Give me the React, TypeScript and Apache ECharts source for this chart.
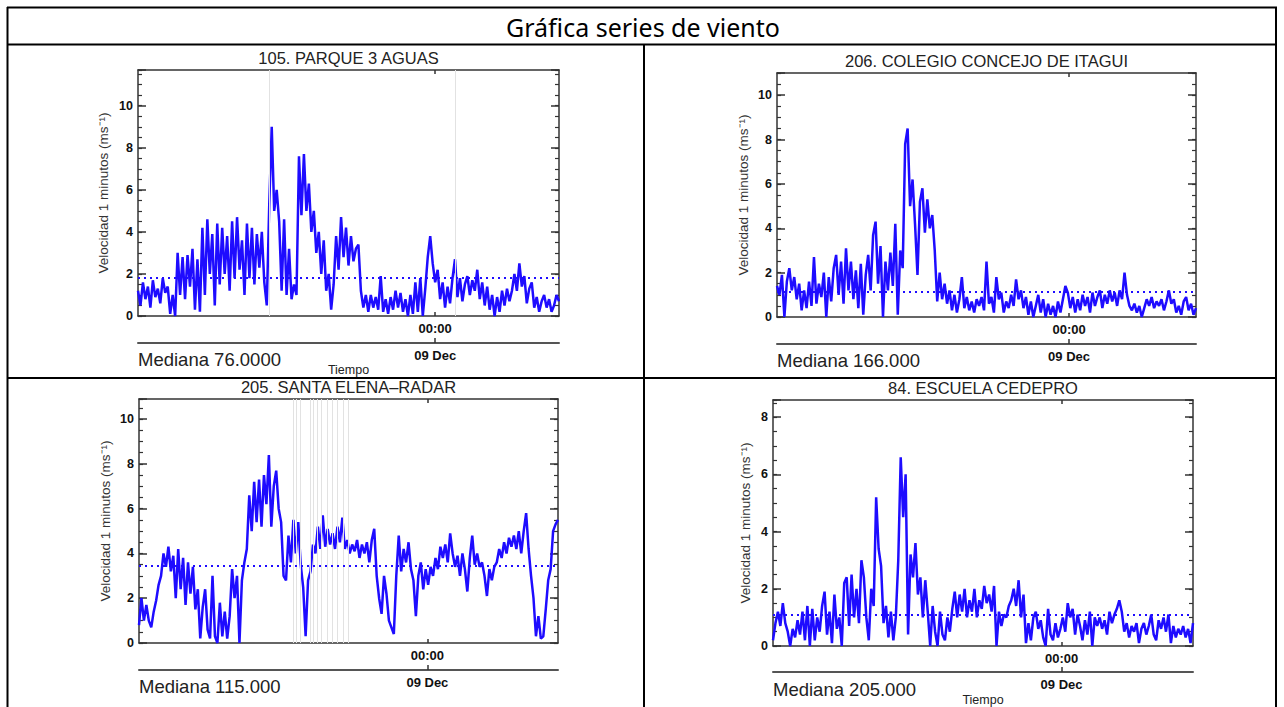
import React, { useEffect, useRef } from "react";
import * as echarts from "echarts";

const MAIN_TITLE = "Gráfica series de viento";
const STATION_TITLES = [
  "105. PARQUE 3 AGUAS",
  "206. COLEGIO CONCEJO DE ITAGUI",
  "205. SANTA ELENA–RADAR",
  "84. ESCUELA CEDEPRO",
];
const MEDIANA_LABELS = ["Mediana 76.0000", "Mediana 166.000", "Mediana 115.000", "Mediana 205.000"];
const SHOW_TIEMPO = [true, false, false, true];
const Y_NAME = "Velocidad 1 minutos (ms⁻¹)";
const MIDNIGHT_LABEL = "00:00";
const DAY_LABEL = "09 Dec";
const TIEMPO = "Tiempo";

// hours relative to 00:00 of 09 Dec
const X_RANGES = [
  [-12.0, 5.0],
  [-11.85, 5.15],
  [-11.7, 5.3],
  [-11.68, 5.32],
];
const Y_MAX = [11.7, 11.0, 10.9, 8.6];
const MEDIAN_SPEED = [1.8, 1.15, 3.45, 1.1];
const GAP_LINES_1 = [-6.71, 0.835];
const GAP_LINES_2: number[] = [];
const GAP_LINES_3 = [-5.44, -5.31, -5.17, -4.76, -4.63, -4.47, -4.29, -4.08, -3.86, -3.66, -3.4, -3.21];
const GAP_LINES_4: number[] = [];

const SPEED_1 = [
  1.2, 0.5, 1.6, 0.8, 1.4, 0.4, 1.7, 0.9, 1.3, 0.6, 1.8, 1.1, 1.4, 0.1, 1.0, 0.0,
  3.0, 1.0, 2.8, 0.8, 2.9, 1.4, 3.2, 0.3, 2.7, 0.2,
  4.2, 1.0, 4.6, 2.0, 3.9, 0.5, 4.4, 1.5, 4.2, 2.0, 3.8, 1.2, 4.5, 1.8, 4.7, 2.2, 3.6, 1.0, 4.4, 1.8, 4.2, 1.5, 3.9, 2.3, 4.0, 1.6, 0.5,
  5.3, 9.0, 5.0, 6.0, 4.5, 1.2, 4.6, 1.0, 3.2, 0.8, 1.5, 1.0, 7.6, 4.8, 7.7, 5.0, 6.3, 4.0, 5.0, 3.0, 4.0, 2.0,
  3.6, 1.2, 2.0, 0.3, 1.5, 3.8, 2.2, 4.7, 2.8, 4.2, 2.4, 3.8, 2.6, 3.2, 3.4, 1.2, 0.4, 1.0, 0.2, 1.0,
  0.4, 0.9, 0.3, 1.9, 0.2, 0.8, 0.1, 0.9, 0.3, 1.2, 0.4, 1.1, 0.2, 0.8, 0.0, 1.0, 0.1, 1.6, 0.2, 1.8,
  0.0, 1.3, 2.8, 3.8, 2.5, 1.6, 2.2, 0.8, 1.6, 0.4, 1.4, 0.6, 1.8, 2.7, 0.9, 1.8, 0.7, 1.5, 1.9, 1.0,
  1.7, 1.2, 2.2, 0.8, 1.6, 0.5, 1.4, 0.3, 1.0, 0.0, 0.9, 0.2, 1.2, 0.5, 1.3, 0.7, 1.2, 2.0, 1.2, 2.5,
  1.4, 1.9, 0.6, 1.3, 1.6, 0.4, 0.9, 0.2, 0.7, 1.0, 0.4, 0.8, 0.2, 0.5, 1.0, 0.7,
];
const SPEED_2 = [
  1.4, 1.0, 1.9, 0.0, 1.6, 2.2, 1.2, 1.8, 0.8, 1.5, 0.3, 1.2, 0.4, 1.6, 0.5, 2.7, 0.6, 1.5, 0.9, 2.0,
  0.0, 1.8, 0.7, 2.2, 2.8, 1.0, 2.5, 0.6, 3.1, 1.2, 2.5, 0.8, 2.1, 0.4, 2.4, 0.1, 1.9, 2.8, 1.2, 3.7,
  4.3, 1.5, 3.2, 0.0, 2.5, 1.2, 2.9, 1.4, 4.2, 0.1, 3.0, 2.2, 7.8, 8.5, 5.0, 6.2, 4.2, 1.9, 5.2, 5.8,
  3.8, 5.3, 4.0, 4.6, 3.0, 0.7, 2.0, 0.8, 1.5, 0.6, 1.2, 0.3, 1.0, 0.2, 0.8, 1.8, 0.4, 0.9, 0.3, 0.7,
  0.2, 0.8, 0.5, 0.9, 0.3, 2.5, 0.6, 0.9, 0.2, 1.8, 0.8, 1.1, 0.2, 0.7, 0.4, 1.0, 0.5, 1.7, 0.8, 1.2,
  0.4, 0.9, 0.1, 0.7, 0.0, 0.5, 1.0, 0.2, 0.8, 0.0, 0.6, 0.1, 0.5, 0.0, 0.7, 0.2, 0.8, 1.4, 1.1, 0.4,
  0.9, 0.2, 0.8, 0.3, 1.0, 0.5, 0.9, 0.2, 1.1, 0.5, 0.9, 1.2, 0.4, 1.0, 0.6, 1.2, 0.7, 1.1, 0.5, 1.2,
  0.8, 2.0, 1.0, 0.5, 0.3, 0.6, 0.2, 0.5, 0.0, 0.4, 0.8, 0.5, 0.9, 0.4, 0.7, 0.5, 0.8, 0.3, 0.7, 1.2,
  0.6, 0.8, 0.2, 0.5, 0.1, 0.7, 0.9, 0.3, 0.6, 0.1, 0.4,
];
const SPEED_3 = [
  0.8, 2.0, 1.0, 1.7, 1.0, 0.7, 1.4, 1.9, 2.6, 3.0, 4.0, 3.4, 4.3, 3.2, 3.9, 2.0, 4.2, 2.4, 3.8, 1.7,
  3.6, 2.2, 3.4, 1.5, 2.4, 0.2, 1.6, 2.4, 0.6, 0.2, 3.0, 0.3, 0.0, 1.8, 0.3, 1.4, 0.2, 1.2, 3.3, 2.0,
  3.0, 0.0, 2.8, 3.6, 4.2, 6.6, 5.0, 7.2, 5.4, 7.3, 5.2, 7.5, 6.2, 8.4, 5.2, 7.0, 7.7, 6.0, 5.4, 3.0,
  2.8, 4.8, 3.6, 5.5, 4.0, 5.4, 3.5, 2.5, 0.3, 2.8, 3.2, 4.4, 4.0, 5.2, 4.2, 5.7, 4.3, 5.1, 4.4, 4.9,
  4.2, 5.2, 4.5, 5.6, 4.2, 4.6, 4.0, 4.4, 4.1, 4.6, 3.8, 4.4, 4.0, 4.5, 3.6, 4.6, 5.1, 3.0, 2.0, 1.3,
  3.0, 2.2, 1.0, 0.7, 0.4, 3.0, 4.8, 3.2, 4.2, 3.6, 4.5, 3.3, 2.8, 1.2, 3.0, 3.6, 2.4, 3.3, 2.6, 3.4,
  3.0, 3.8, 3.3, 4.3, 3.8, 4.4, 3.6, 4.9, 4.0, 3.4, 3.9, 3.0, 4.0, 3.3, 2.3, 3.8, 4.8, 3.5, 4.0, 3.4,
  3.6, 3.0, 2.1, 3.3, 2.8, 3.4, 3.6, 4.2, 3.8, 4.5, 4.0, 4.7, 4.3, 4.8, 4.2, 5.0, 4.0, 5.0, 5.8, 4.2,
  3.0, 2.0, 0.3, 1.2, 0.2, 0.3, 1.5, 2.8, 3.3, 5.0, 5.3, 5.5,
];
const SPEED_4 = [
  0.2, 0.8, 1.2, 0.7, 1.5, 0.8, 0.5, 0.0, 0.6, 0.3, 0.9, 0.4, 1.2, 0.2, 1.4, 0.0, 1.3, 0.2, 1.0, 0.5,
  1.4, 1.9, 0.4, 1.2, 0.1, 1.8, 0.6, 1.0, 0.0, 2.2, 2.4, 0.7, 2.5, 1.0, 2.0, 0.8, 3.0, 2.4, 1.0, 0.2,
  2.0, 1.4, 5.2, 3.4, 2.8, 0.8, 1.4, 0.3, 1.2, 0.2, 1.0, 3.0, 6.6, 4.5, 6.0, 0.4, 3.2, 2.4, 3.6, 1.8,
  2.4, 1.0, 2.3, 1.2, 0.0, 1.4, 0.5, 0.0, 1.2, 0.4, 0.2, 1.0, 0.5, 1.3, 1.9, 1.0, 1.8, 1.2, 2.0, 1.0,
  1.6, 1.2, 2.0, 1.0, 1.6, 1.3, 2.1, 1.5, 1.8, 1.2, 2.1, 0.0, 1.2, 0.7, 1.1, 1.0, 1.4, 1.6, 2.0, 1.4,
  2.3, 1.0, 1.8, 0.1, 0.8, 0.2, 1.0, 1.2, 0.6, 0.9, 0.3, 0.0, 1.3, 0.4, 0.2, 0.8, 0.3, 0.6, 1.0, 0.5,
  1.5, 1.0, 1.3, 0.4, 1.1, 0.7, 0.2, 0.9, 0.4, 1.2, 0.0, 1.0, 0.7, 1.0, 0.6, 0.9, 0.4, 1.2, 0.8, 1.1,
  1.3, 1.6, 1.2, 0.5, 0.8, 0.3, 0.7, 0.5, 0.8, 0.1, 0.6, 0.8, 0.4, 0.7, 1.1, 0.4, 0.2, 0.9, 0.6, 1.0,
  0.5, 1.1, 0.1, 0.7, 0.3, 0.6, 0.4, 0.7, 0.3, 0.6, 0.1, 0.8,
];
const SPEEDS = [SPEED_1, SPEED_2, SPEED_3, SPEED_4];
const GAP_LINES = [GAP_LINES_1, GAP_LINES_2, GAP_LINES_3, GAP_LINES_4];

// layout
const GRIDS = [
  { left: 138, top: 70, width: 421, height: 246 },
  { left: 777, top: 73, width: 419, height: 244 },
  { left: 139, top: 399, width: 419, height: 244 },
  { left: 773, top: 400, width: 420, height: 246 },
];
const NAME_GAPS = [28, 27, 27, 21];
const DAY_AXIS_OFFSET = [27, 27, 27, 26];

const FONT = "'Liberation Sans', Arial, Helvetica, sans-serif";
const BLUE = "#1e0cff";
const FRAME = "#333333";

export default function App() {
  const ref = useRef<HTMLDivElement>(null);
  useEffect(() => {
    document.body.style.margin = "0";
    if (!ref.current) return;
    const chart = echarts.init(ref.current, undefined, { renderer: "svg" });

    const grid: any[] = [];
    const xAxis: any[] = [];
    const yAxis: any[] = [];
    const series: any[] = [];
    const graphic: any[] = [];

    const tableLine = (x1: number, y1: number, x2: number, y2: number) => ({
      type: "line",
      shape: { x1, y1, x2, y2 },
      style: { stroke: "#000", lineWidth: 2 },
      silent: true,
    });
    graphic.push(tableLine(7, 7.5, 1277, 7.5));
    graphic.push(tableLine(7.5, 7, 7.5, 707));
    graphic.push(tableLine(1276, 7, 1276, 707));
    graphic.push(tableLine(7, 44.5, 1277, 44.5));
    graphic.push(tableLine(644, 44.5, 644, 707));
    graphic.push(tableLine(7, 378, 1277, 378));
    graphic.push({
      type: "text",
      x: 643,
      y: 27,
      style: {
        text: MAIN_TITLE,
        font: "25px 'Noto Sans', 'Open Sans', sans-serif",
        fill: "#000",
        textAlign: "center",
        textVerticalAlign: "middle",
      },
      silent: true,
    });

    GRIDS.forEach((g, k) => {
      const [xMin, xMax] = X_RANGES[k];
      grid.push({ left: g.left, top: g.top, width: g.width, height: g.height, containLabel: false });
      const cx = g.left + g.width / 2;
      const bottom = g.top + g.height;

      graphic.push({
        type: "text",
        x: cx,
        y: g.top - 12,
        style: {
          text: STATION_TITLES[k],
          font: `16.5px ${FONT}`,
          fill: "#222",
          textAlign: "center",
          textVerticalAlign: "middle",
        },
        silent: true,
      });
      graphic.push({
        type: "text",
        x: g.left,
        y: bottom + 43,
        style: {
          text: MEDIANA_LABELS[k],
          font: `18.5px ${FONT}`,
          fill: "#222",
          textAlign: "left",
          textVerticalAlign: "middle",
        },
        silent: true,
      });
      if (SHOW_TIEMPO[k]) {
        graphic.push({
          type: "text",
          x: cx,
          y: bottom + 54,
          style: {
            text: TIEMPO,
            font: `12.5px ${FONT}`,
            fill: "#222",
            textAlign: "center",
            textVerticalAlign: "middle",
          },
          silent: true,
        });
      }

      const base = {
        gridIndex: k,
        type: "value",
        min: xMin,
        max: xMax,
        splitLine: { show: false },
      };
      xAxis.push({
        ...base,
        position: "bottom",
        axisLine: { show: true, onZero: false, lineStyle: { color: FRAME, width: 1.5 } },
        axisTick: { show: true, inside: true, length: 4, customValues: [0], lineStyle: { color: FRAME, width: 1.5 } },
        axisLabel: {
          show: true,
          customValues: [0],
          formatter: () => MIDNIGHT_LABEL,
          margin: 6,
          fontSize: 13,
          fontWeight: "bold",
          color: "#111",
          fontFamily: FONT,
        },
      });
      xAxis.push({
        ...base,
        position: "top",
        axisLine: { show: true, onZero: false, lineStyle: { color: FRAME, width: 1.5 } },
        axisTick: { show: true, inside: true, length: 4, customValues: [0], lineStyle: { color: FRAME, width: 1.5 } },
        axisLabel: { show: false },
      });
      xAxis.push({
        ...base,
        position: "bottom",
        offset: DAY_AXIS_OFFSET[k],
        axisLine: { show: true, onZero: false, lineStyle: { color: "#555", width: 2 } },
        axisTick: { show: true, inside: true, length: 5, customValues: [0], lineStyle: { color: FRAME, width: 1.5 } },
        axisLabel: {
          show: true,
          customValues: [0],
          formatter: () => DAY_LABEL,
          margin: 6,
          fontSize: 13,
          fontWeight: "bold",
          color: "#111",
          fontFamily: FONT,
        },
      });

      const yBase = {
        gridIndex: k,
        type: "value",
        min: 0,
        max: Y_MAX[k],
        splitLine: { show: false },
      };
      yAxis.push({
        ...yBase,
        position: "left",
        interval: 2,
        name: Y_NAME,
        nameLocation: "middle",
        nameGap: NAME_GAPS[k],
        nameTextStyle: { fontSize: 13.5, color: "#333", fontFamily: FONT },
        axisLine: { show: true, onZero: false, lineStyle: { color: FRAME, width: 1.5 } },
        axisTick: { show: true, inside: true, length: 8, lineStyle: { color: FRAME, width: 1.5 } },
        axisLabel: {
          show: true,
          margin: 5,
          fontSize: 12.5,
          fontWeight: "bold",
          color: "#111",
          fontFamily: FONT,
          formatter: (v: number) => (Math.abs(v % 2) < 1e-9 ? String(v) : ""),
        },
      });
      yAxis.push({
        ...yBase,
        position: "left",
        interval: 0.5,
        axisLine: { show: false, onZero: false },
        axisTick: { show: true, inside: true, length: 4, lineStyle: { color: FRAME, width: 1.2 } },
        axisLabel: { show: false },
      });
      yAxis.push({
        ...yBase,
        position: "right",
        interval: 2,
        axisLine: { show: true, onZero: false, lineStyle: { color: FRAME, width: 1.5 } },
        axisTick: { show: true, inside: true, length: 8, lineStyle: { color: FRAME, width: 1.5 } },
        axisLabel: { show: false },
      });
      yAxis.push({
        ...yBase,
        position: "right",
        interval: 0.5,
        axisLine: { show: false, onZero: false },
        axisTick: { show: true, inside: true, length: 4, lineStyle: { color: FRAME, width: 1.2 } },
        axisLabel: { show: false },
      });

      const vals = SPEEDS[k];
      const n = vals.length;
      const data = vals.map((v, i) => [xMin + (i * (xMax - xMin)) / (n - 1), v]);

      series.push({
        type: "line",
        xAxisIndex: k * 3,
        yAxisIndex: k * 4,
        data: [[xMin, 0]],
        showSymbol: false,
        lineStyle: { width: 0, opacity: 0 },
        silent: true,
        z: 1,
        markLine: {
          silent: true,
          symbol: "none",
          label: { show: false },
          animation: false,
          data: [
            ...GAP_LINES[k].map((x) => ({ xAxis: x, lineStyle: { color: "#e2e2e2", width: 1, type: "solid" } })),
            { yAxis: MEDIAN_SPEED[k], lineStyle: { color: BLUE, width: 2, type: [2, 4] } },
          ],
        },
      });
      series.push({
        type: "line",
        xAxisIndex: k * 3,
        yAxisIndex: k * 4,
        data,
        showSymbol: false,
        lineStyle: { color: BLUE, width: 2.5 },
        z: 3,
      });
    });

    chart.setOption({
      animation: false,
      backgroundColor: "#ffffff",
      grid,
      xAxis,
      yAxis,
      series,
      graphic,
    });
    return () => chart.dispose();
  }, []);
  return <div ref={ref} style={{ width: 1284, height: 707 }} />;
}
